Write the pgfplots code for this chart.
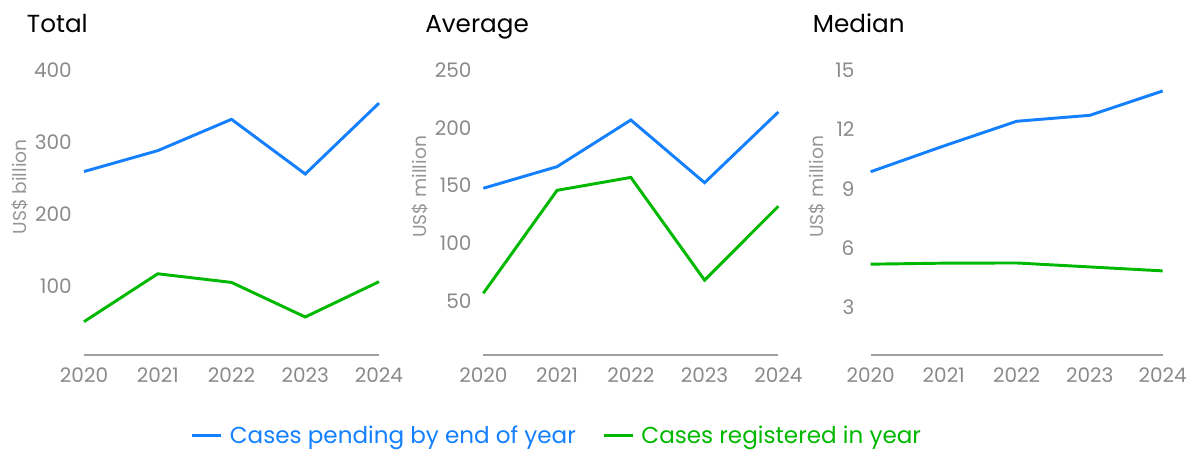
\documentclass[border=0pt]{standalone}
\usepackage{pgfplots}
\pgfplotsset{compat=1.18}
\usepackage{fontspec}
\setmainfont{Poppins}

\definecolor{cblue}{RGB}{20,128,255}
\definecolor{cgreen}{RGB}{0,184,0}
\definecolor{ctick}{RGB}{138,138,138}
\definecolor{caxis}{RGB}{160,160,160}
\definecolor{clabel}{RGB}{150,150,150}

\pgfplotsset{
  panel/.style={
    scale only axis, width=221.25pt, height=213.75pt,
    anchor=south west,
    xmin=2020, xmax=2024, xtick={2020,2021,2022,2023,2024},
    axis x line=bottom, axis y line=left,
    axis line style={-},
    x axis line style={draw=caxis, line width=0.9pt},
    y axis line style={draw=none},
    major tick length=0pt,
    tick label style={font=\fontsize{15}{18}\selectfont, text=ctick},
    /pgf/number format/assume math mode=true,
    /pgf/number format/1000 sep={},
    xticklabel style={anchor=base, yshift=-20.25pt},
    yticklabel style={anchor=east, inner sep=0pt},
    ylabel style={font=\fontsize{14}{16}\selectfont, text=clabel, anchor=center},
    every axis plot/.append style={line width=2.2pt, no marks},
    clip=false,
  }
}

\begin{document}
\begin{tikzpicture}
% Total
\begin{axis}[panel, at={(63pt,-266.25pt)},
  ymin=4.2, ymax=400, ytick={100,200,300,400},
  yticklabel style={xshift=-9pt},
  ylabel={US\$ billion},
  ylabel style={at={(axis description cs:-0.217,0.59)}}]
\addplot[cblue] coordinates {(2020,259) (2021,288) (2022,331.5) (2023,255.6) (2024,354)};
\addplot[cgreen] coordinates {(2020,50.5) (2021,117) (2022,105) (2023,57) (2024,106)};
\end{axis}

% Average
\begin{axis}[panel, at={(362.5pt,-266.25pt)},
  ymin=3.2, ymax=250, ytick={50,100,150,200,250},
  yticklabel style={xshift=-8.7pt},
  ylabel={US\$ million},
  ylabel style={at={(axis description cs:-0.214,0.59)}},
  legend style={at={(rel axis cs:-0.991,-0.284)}, anchor=west,
    draw=none, fill=none, inner sep=0pt, outer sep=0pt,
    font=\fontsize{17.3}{19}\selectfont,
    nodes={inner sep=0pt},
    /tikz/every odd column/.append style={column sep=5.25pt},
    /tikz/every even column/.append style={column sep=20pt}},
  legend columns=2,
  legend image code/.code={\draw[#1] (0pt,0pt) -- (21.75pt,0pt);}]
\addplot[cblue] coordinates {(2020,147.6) (2021,166.3) (2022,206.7) (2023,152.4) (2024,213.6)};
\addlegendentry{\textcolor{cblue}{Cases pending by end of year}}
\addplot[cgreen] coordinates {(2020,56.7) (2021,145.8) (2022,157) (2023,68) (2024,132)};
\addlegendentry{\textcolor{cgreen}{Cases registered in year}}
\end{axis}

% Median
\begin{axis}[panel, at={(653pt,-266.25pt)}, width=219pt,
  ymin=0.6, ymax=15, ytick={3,6,9,12,15},
  yticklabel style={xshift=-12pt},
  ylabel={US\$ million},
  ylabel style={at={(axis description cs:-0.185,0.59)}}]
\addplot[cblue] coordinates {(2020,9.86) (2021,11.16) (2022,12.41) (2023,12.71) (2024,13.94)};
\addplot[cgreen] coordinates {(2020,5.19) (2021,5.24) (2022,5.25) (2023,5.05) (2024,4.85)};
\end{axis}

\node[anchor=base west, inner sep=0pt, font=\fontsize{18.5}{22}\selectfont] at (20pt,-24.2pt) {Total};
\node[anchor=base west, inner sep=0pt, font=\fontsize{18.5}{22}\selectfont] at (318.75pt,-24.2pt) {Average};
\node[anchor=base west, inner sep=0pt, font=\fontsize{18.5}{22}\selectfont] at (609.5pt,-24.2pt) {Median};

\pgfresetboundingbox
\useasboundingbox (0pt,0pt) rectangle (896.25pt,-337.5pt);
\end{tikzpicture}
\end{document}
